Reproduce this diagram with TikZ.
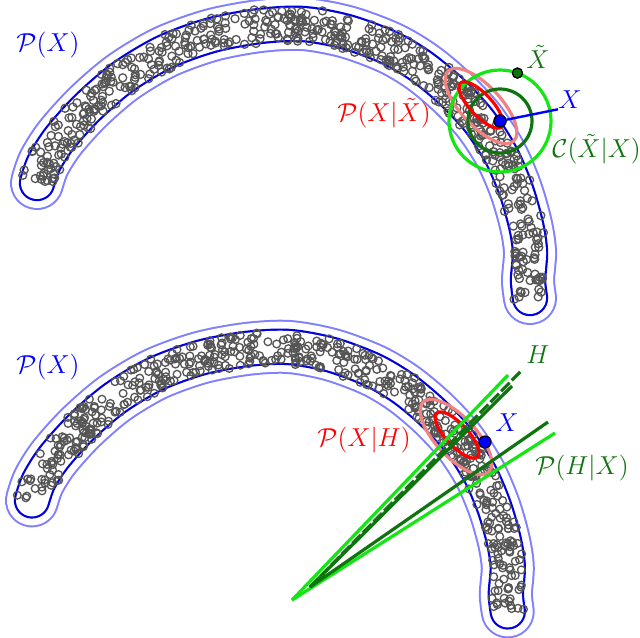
\documentclass[tikz,border=0pt]{standalone}

\definecolor{pxblue}{RGB}{0,0,225}
\definecolor{pxpale}{RGB}{128,128,255}
\definecolor{dotgray}{RGB}{85,85,85}
\definecolor{hdark}{RGB}{15,115,15}
\definecolor{hlight}{RGB}{20,230,20}
\definecolor{salmon}{RGB}{240,130,130}

% centre line of the data band (image pixels, y up)
\def\bandx{{37,44,60,88,123,165,212,260,303,347,390,422,452,479,501,516,526,530,528,530}}
\def\bandy{{-183,-163,-138,-107,-77,-52,-35,-26,-24,-32,-48,-67,-92,-121,-155,-190,-225,-252,-280,-298}}

\newcommand{\bananaband}{%
  \path[band] plot[smooth] coordinates {
    (37,-183) (44,-163) (60,-138) (88,-107) (123,-77) (165,-52) (212,-35)
    (260,-26) (303,-24) (347,-32) (390,-48) (422,-67) (452,-92) (479,-121)
    (501,-155) (516,-190) (526,-225) (530,-252) (528,-280) (530,-298)};
  % samples scattered along the band
  \foreach \k in {1,...,700}{
    \pgfmathtruncatemacro{\si}{int(rnd*19)}
    \pgfmathsetmacro{\ax}{\bandx[\si]}
    \pgfmathsetmacro{\ay}{\bandy[\si]}
    \pgfmathsetmacro{\bxx}{\bandx[\si+1]}
    \pgfmathsetmacro{\byy}{\bandy[\si+1]}
    \pgfmathsetmacro{\seglen}{veclen(\bxx-\ax,\byy-\ay)}
    \pgfmathtruncatemacro{\dotok}{rnd<\seglen/50}
    \ifnum\dotok=1
      \pgfmathsetmacro{\dott}{rnd}
      \pgfmathsetmacro{\dotv}{17*rand}
      \pgfmathsetmacro{\px}{\ax+\dott*(\bxx-\ax)-\dotv*(\byy-\ay)/\seglen}
      \pgfmathsetmacro{\py}{\ay+\dott*(\byy-\ay)+\dotv*(\bxx-\ax)/\seglen}
      \draw[dotring] (\px,\py) circle[radius=2pt];
    \fi
  }}

\begin{document}
\begin{tikzpicture}[
    x=0.5pt, y=0.5pt,
    dotring/.style={draw=dotgray, line width=0.65pt},
    band/.style={draw=pxpale, line width=27pt, line cap=round, line join=round,
      postaction={draw=white, line width=25pt},
      postaction={draw=pxblue, line width=18.2pt},
      postaction={draw=white, line width=16pt}},
    lbl/.style={inner sep=0pt, font=\large, scale=1.08},
    ptx/.style={circle, draw=black, fill=blue, line width=0.6pt, inner sep=0pt, minimum size=6pt},
    pth/.style={circle, draw=black, fill=hdark, line width=0.6pt, inner sep=0pt, minimum size=5pt},
    ring/.style={line width=1.6pt},
    edge/.style={line width=1.6pt},
]
\useasboundingbox (0,0) rectangle (640,-637);
\pgfmathsetseed{11}

% Top panel: corruption around X
\bananaband
\node[ptx] (xtop) at (500,-121) {};
\draw[ring, salmon, rotate around={-47:(481,-106)}] (481,-106) ellipse[x radius=24pt, y radius=10pt];
\draw[ring, hlight] (xtop) circle[radius=25.5pt];
\draw[ring, hdark] (xtop) circle[radius=16pt];
\draw[ring, red, rotate around={-47:(481,-105)}] (481,-105) ellipse[x radius=15pt, y radius=5.5pt];
\path (xtop) ++(70:51) node[pth] (xtil) {};

\node[lbl, text=blue] (ptop) at (48,-45) {$\mathcal{P}(X)$};
\node[lbl, text=red] (qtop) at (384,-113) {$\mathcal{P}(X|\tilde{X})$};
\node[lbl, text=blue] (xlabtop) at (570,-100) {$X$};
\node[lbl, text=hdark] (xtillab) at (538,-57) {$\tilde{X}$};
\node[lbl, text=hdark, anchor=west] (clab) at (552,-149) {$\mathcal{C}(\tilde{X}|X)$};
\draw[blue, line width=1.2pt] (xtop) -- (xlabtop.south west);
\node[ptx] at (xtop) {};
\node[pth] at (xtil) {};

% Bottom panel: hypotheses around X
\begin{scope}[shift={(-3.7,-323.8)}, scale=0.965]
  \bananaband
\end{scope}
\draw[ring, salmon, rotate around={-47:(456,-437)}] (456,-437) ellipse[x radius=24pt, y radius=10pt];
\draw[ring, red, rotate around={-47:(457,-435)}] (457,-435) ellipse[x radius=15pt, y radius=5.5pt];

\coordinate (apexl) at (292,-600);
\coordinate (apexd) at (310,-587);
\coordinate (hl1) at (508,-375);
\coordinate (hl2) at (555,-433);
\coordinate (hd1) at (512,-386);
\coordinate (hd2) at (548,-422);
\coordinate (hend) at (521,-371);
\draw[edge, hlight] (apexl) -- (hl1);
\draw[edge, hlight] (apexl) -- (hl2);
\draw[edge, hdark] (apexd) -- (hd1);
\draw[edge, hdark] (apexd) -- (hd2);
\draw[edge, hdark, dash pattern=on 6pt off 1.6pt] (apexd) -- (hend);
\node[ptx] (xbot) at (485,-442) {};

\node[lbl, text=blue] (pbot) at (48,-367) {$\mathcal{P}(X)$};
\node[lbl, text=red] (qbot) at (364,-440) {$\mathcal{P}(X|H)$};
\node[lbl, text=blue] (xlabbot) at (507,-423) {$X$};
\node[lbl, text=hdark] (hlab) at (538,-355) {$H$};
\node[lbl, text=hdark] (phlab) at (582,-468) {$\mathcal{P}(H|X)$};
\end{tikzpicture}
\end{document}
